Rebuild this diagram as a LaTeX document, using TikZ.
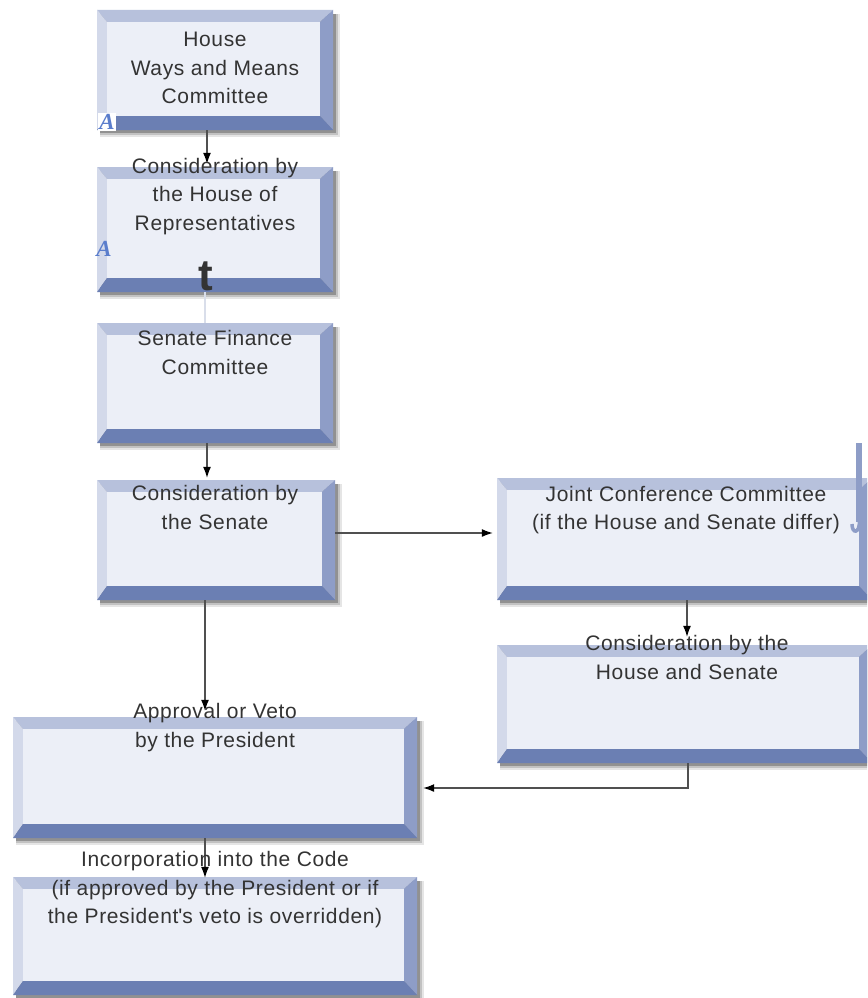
\documentclass[tikz,border=0pt]{standalone}
\usepackage{fontspec}
\setmainfont{Liberation Sans}[LetterSpace=3]
\newfontfamily\apf{Liberation Sans}[LetterSpace=3]
\newfontfamily\serifA{Liberation Serif}
\usetikzlibrary{fit,arrows.meta}
\definecolor{facec}{HTML}{ECEFF7}
\definecolor{topc}{HTML}{B7C1DC}
\definecolor{leftc}{HTML}{D3D9EA}
\definecolor{rightc}{HTML}{8E9DC7}
\definecolor{botc}{HTML}{6B7FB3}
\definecolor{txtc}{HTML}{333333}
\definecolor{arrc}{HTML}{505050}
\definecolor{Ac}{HTML}{5A7DCC}
\definecolor{faintc}{HTML}{D9DEEA}
\newcommand\bevbox[5]{%
  \fill[black,opacity=.10] (#2+3,#3+4) rectangle (#4+7,#5+7);
  \fill[black,opacity=.15] (#2+3,#3+4) rectangle (#4+5,#5+5);
  \fill[black,opacity=.25] (#2+3,#3+4) rectangle (#4+3,#5+3);
  \fill[topc] (#2,#3) -- (#4,#3) -- (#4-13,#3+12) -- (#2+10,#3+12) -- cycle;
  \fill[leftc] (#2,#3) -- (#2+10,#3+12) -- (#2+10,#5-14) -- (#2,#5) -- cycle;
  \fill[rightc] (#4,#3) -- (#4,#5) -- (#4-13,#5-14) -- (#4-13,#3+12) -- cycle;
  \fill[botc] (#2,#5) -- (#4,#5) -- (#4-13,#5-14) -- (#2+10,#5-14) -- cycle;
  \fill[facec] (#2+10,#3+12) rectangle (#4-13,#5-14);
  \node[fit={(#2,#3) (#4,#5)}, inner sep=0pt] (#1) {};
}
\tikzset{
  lbl/.style={text=txtc, align=center, inner sep=0pt,
    font=\fontsize{21}{28.5}\selectfont},
  arr/.style={draw=arrc, line width=1.1pt,
    -{Latex[length=11pt,width=8pt,color=black]}},
  glyphA/.style={text=Ac, inner sep=0pt, font=\serifA\bfseries\itshape\fontsize{23}{23}\selectfont}
}
\begin{document}
\begin{tikzpicture}[x=1pt,y=-1pt]
\useasboundingbox (0,0) rectangle (867,998);
\clip (0,0) rectangle (867,998);
\fill[white] (0,0) rectangle (867,998);

\bevbox{b1}{97}{10}{333}{130}
\bevbox{b2}{97}{167}{333}{292}
\bevbox{b3}{97}{323}{333}{443}
\bevbox{b4}{97}{480}{335}{600}
\bevbox{bj}{497}{478}{872}{600}
\bevbox{bc}{497}{645}{872}{763}
\bevbox{ba}{13}{717}{417}{838}
\bevbox{bi}{13}{877}{417}{995}

% column / row helpers
\coordinate (cx1) at (207,0);
\coordinate (cx2) at (205,0);
\coordinate (cx3) at (687,0);
\coordinate (ry1) at (0,533);
\coordinate (k1) at (688,788);

% connectors
\draw[arr, shorten >=3pt] (b1.south -| cx1) -- (b2.north -| cx1);
\draw[faintc, line width=2pt] (b2.south -| cx2) -- (b3.north -| cx2);
\draw[arr, shorten >=2pt] (b3.south -| cx1) -- (b4.north -| cx1);
\draw[arr, shorten >=6pt] (b4.south -| cx2) -- (ba.north -| cx2);
\draw[arr, shorten >=4pt] (b4.east |- ry1) -- (bj.west |- ry1);
\draw[arr, shorten >=8pt] (bj.south -| cx3) -- (bc.north -| cx3);
\draw[arr, shorten >=6pt] (k1 |- bc.south) -- (k1) -- (ba.east |- k1);
\draw[arr, shorten >=-1pt] (ba.south -| cx2) -- (bi.north -| cx2);

% texts
\node[lbl] (t1) at (215,68) {House\\Ways and Means\\Committee};
\node[lbl] (t2) at (215,196.5) {Consideration by\\the House of\\Representatives};
\node[lbl] (t3) at (215,352.5) {Senate Finance\\Committee};
\node[lbl] (t4) at (215,507.5) {Consideration by\\the Senate};
\node[lbl] (tj) at (686,510) {Joint Conference Committee\\(if the House and Senate differ)};
\node[lbl] (tc) at (687,657.5) {Consideration by the\\House and Senate};
\node[lbl] (ta) at (215,727.5) {Approval or Veto\\by the President};
\node[lbl] (ti) at (215,890) {Incorporation into the Code\\(if approved by the President or if\\the President{\apf'}s veto is overridden)};

% stray marks
\node[glyphA, fill=white, inner sep=1.5pt] (a1) at (107,122) {A};
\node[glyphA] (a2) at (104,249) {A};
\node[text=txtc, inner sep=0pt, font=\bfseries\fontsize{44}{44}\selectfont] (tt) at (206,276) {t};
\draw[rightc, line width=6pt] (858.5,443) -- (858.5,522);
\draw[rightc, line width=3.5pt] (859.5,521) .. controls (859.5,534) and (852,534) .. (852,524);
\end{tikzpicture}
\end{document}
